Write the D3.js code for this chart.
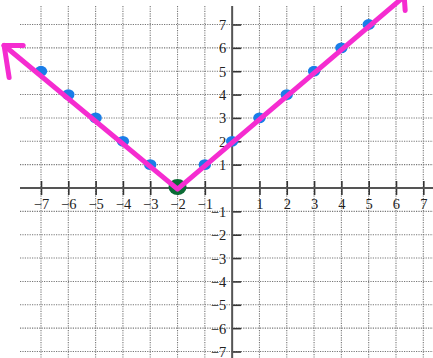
<!DOCTYPE html>
<html>
<head>
<meta charset="utf-8">
<script src="https://cdn.jsdelivr.net/npm/d3@7"></script>
<style>
  body { margin: 0; background: #fff; }
  svg { display: block; }
</style>
</head>
<body>
<svg id="chart" width="433" height="358"></svg>
<script>
// tick values on both axes
var xTicks = [-7,-6,-5,-4,-3,-2,-1,1,2,3,4,5,6,7];
var yTicks = [-7,-6,-5,-4,-3,-2,-1,1,2,3,4,5,6,7];

// plotted points of y = |x + 2|
var pointX = [-7,-6,-5,-4,-3,-1,0,1,2,3,4,5];
var pointY = [5,4,3,2,1,1,2,3,4,5,6,7];
var vertexX = [-2];
var vertexY = [0];

// hand drawn V line, arrow tip to vertex to arrow tip
var lineX = [-8.35,-2,6.3];
var lineY = [6.1,-0.05,8.2];

var width = 433, height = 358;
var svg = d3.select("#chart");
var labelFont = "'Liberation Serif', 'Times New Roman', serif";

var x = d3.scaleLinear().domain([-7,7]).range([41,423.3]);
var y = d3.scaleLinear().domain([-7,7]).range([351.5,24.5]);

function fmt(d){ return d < 0 ? "\u2212" + (-d) : d; }

var grid = svg.append("g");
// vertical grid
grid.selectAll("line.vg").data(xTicks).enter().append("line")
    .attr("x1",function(d){ return x(d); })
    .attr("x2",function(d){ return x(d); })
    .attr("y1",6).attr("y2",height)
    .attr("stroke","#777").attr("stroke-width",1.1)
    .attr("stroke-dasharray","1.2,1.2");
// horizontal grid
grid.selectAll("line.hg").data(yTicks).enter().append("line")
    .attr("x1",20).attr("x2",width)
    .attr("y1",function(d){ return y(d); })
    .attr("y2",function(d){ return y(d); })
    .attr("stroke","#777").attr("stroke-width",1.1)
    .attr("stroke-dasharray","1.2,1.2");

// axes, drawn with d3 axis then restyled
var xAxis = svg.append("g")
    .attr("transform","translate(0," + y(0) + ")")
    .call(d3.axisBottom(x).tickValues(xTicks).tickSizeInner(7).tickSizeOuter(0).tickFormat(fmt));
xAxis.select(".domain").remove();
xAxis.selectAll(".tick line").attr("y1",-7).attr("stroke","#333").attr("stroke-width",1.6);
xAxis.selectAll(".tick text").attr("y",12).attr("dy","0.62em")
    .style("font-family",labelFont).style("font-size","14.5px").style("fill","#222");
xAxis.append("line").attr("x1",20).attr("x2",width).attr("y1",0).attr("y2",0)
    .attr("stroke","#555").attr("stroke-width",2);

var yAxis = svg.append("g")
    .attr("transform","translate(" + x(0) + ",0)")
    .call(d3.axisLeft(y).tickValues(yTicks).tickSizeInner(7).tickSizeOuter(0).tickFormat(fmt));
yAxis.select(".domain").remove();
yAxis.selectAll(".tick line").attr("x2",9).attr("stroke","#333").attr("stroke-width",1.6);
yAxis.selectAll(".tick text").attr("x",-6).attr("dy","0.34em")
    .style("font-family",labelFont).style("font-size","14.5px").style("fill","#222");
yAxis.append("line").attr("x1",0).attr("x2",0).attr("y1",6).attr("y2",height)
    .attr("stroke","#555").attr("stroke-width",2);

// blue dots
svg.selectAll("ellipse.pt").data(pointX).enter().append("ellipse")
    .attr("cx",function(d){ return x(d); })
    .attr("cy",function(d,i){ return y(pointY[i]); })
    .attr("rx",6.2).attr("ry",5.4)
    .attr("fill","#1a7de8");

// green vertex
svg.selectAll("ellipse.vx").data(vertexX).enter().append("ellipse")
    .attr("cx",function(d){ return x(d); })
    .attr("cy",function(d,i){ return y(vertexY[i]) - 1; })
    .attr("rx",9).attr("ry",8)
    .attr("fill","#0b6b35");

// magenta V line
var pts = lineX.map(function(d,i){ return [x(d), y(lineY[i])]; });
svg.append("path")
    .attr("d", d3.line()(pts))
    .attr("fill","none").attr("stroke","#f52cd0").attr("stroke-width",5)
    .attr("stroke-linejoin","round").attr("stroke-linecap","round");

// arrow heads at both ends
var tipL = pts[0], tipR = pts[2];
var heads = [
  [tipL,[tipL[0]+19,tipL[1]]],
  [tipL,[tipL[0]+5,tipL[1]+32]],
  [tipR,[tipR[0]-22,tipR[1]]],
  [tipR,[tipR[0]+1,tipR[1]+14]]
];
svg.selectAll("path.head").data(heads).enter().append("path")
    .attr("d",function(d){ return d3.line()(d); })
    .attr("fill","none").attr("stroke","#f52cd0").attr("stroke-width",5)
    .attr("stroke-linecap","round");
</script>
</body>
</html>
